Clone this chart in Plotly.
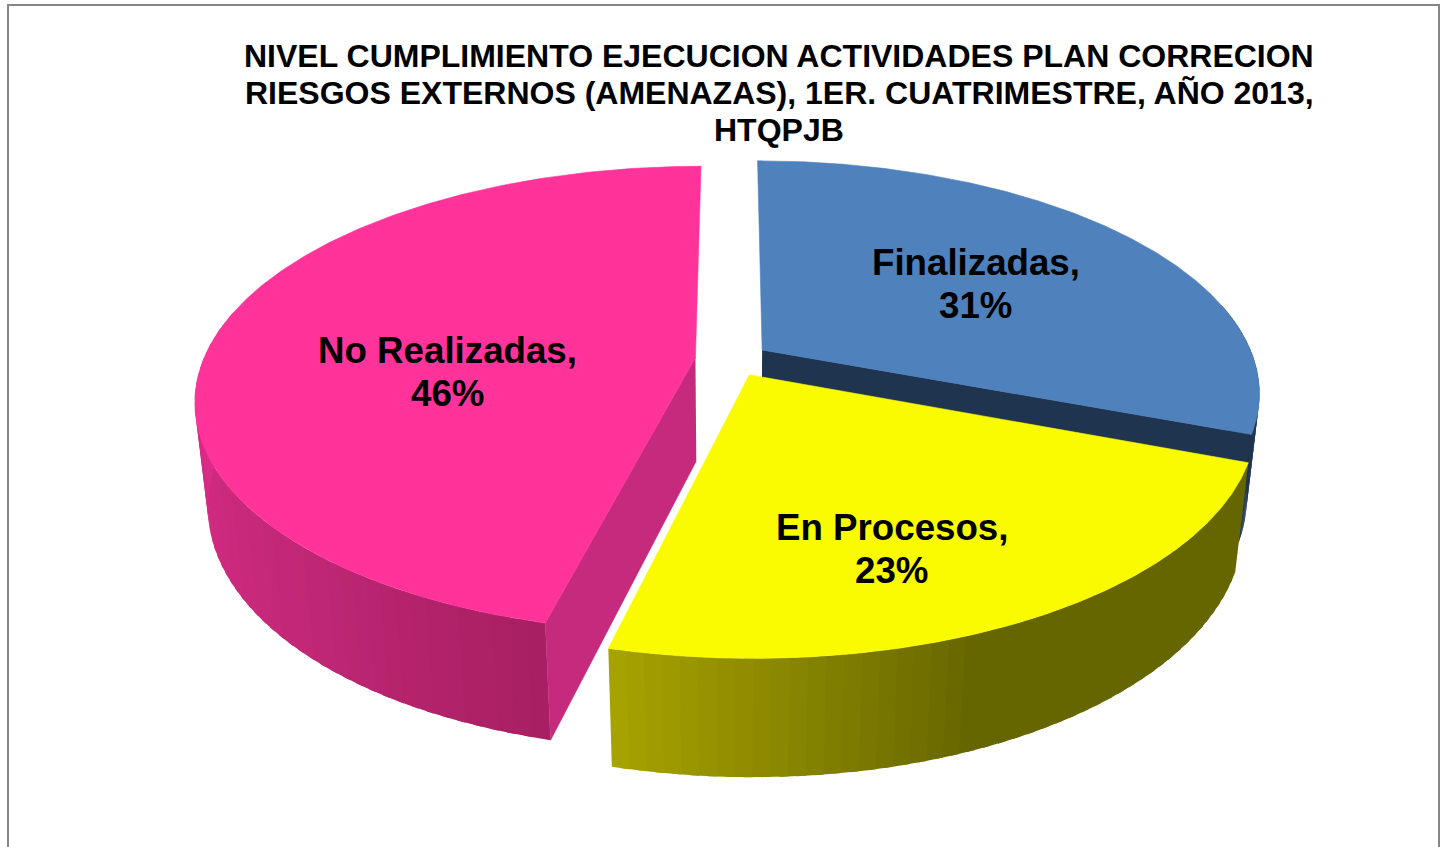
import math
import plotly.graph_objects as go

categories = ["Finalizadas", "En Procesos", "No Realizadas"]
shares = [30.8, 23.1, 46.2]
title_lines = [
    "NIVEL CUMPLIMIENTO EJECUCION ACTIVIDADES PLAN CORRECION",
    "RIESGOS EXTERNOS (AMENAZAS), 1ER. CUATRIMESTRE, AÑO 2013,",
    "HTQPJB",
]

top_colors = ["#4F81BD", "#FBFB00", "#FF3399"]
cut_colors = ["#1F344F", None, "#C62A7C"]
side_stops = [
    [(0.0, "#1F344F"), (1.0, "#1F344F")],
    [(0.0, "#666600"), (0.57, "#666600"), (1.0, "#A8A400")],
    [(0.0, "#A81F62"), (0.36, "#C22877"), (0.74, "#D62B84"), (1.0, "#DE2F8B")],
]

CX, CY = 732.0, 359.6
A, B, C = 492.0, 226.4, 106.0
K, M, EXPLODE = 0.18, 0.024, 0.075


def project(u, v, h):
    w = 1 + K * v + M * h
    return CX + A * u / w, CY + (-B * v + C * h) / w


def hex_mix(stops, t):
    for (t0, c0), (t1, c1) in zip(stops, stops[1:]):
        if t <= t1:
            f = (t - t0) / (t1 - t0) if t1 > t0 else 0
            rgb0 = [int(c0[i:i + 2], 16) for i in (1, 3, 5)]
            rgb1 = [int(c1[i:i + 2], 16) for i in (1, 3, 5)]
            r = [round(a + (b - a) * f) for a, b in zip(rgb0, rgb1)]
            return "rgb(%d,%d,%d)" % tuple(r)
    return stops[-1][1]


fig = go.Figure()


def poly(xs, ys, color, name, width=0.6):
    fig.add_trace(go.Scatter(
        x=xs, y=ys, mode="lines", fill="toself", fillcolor=color,
        line=dict(color=color, width=width), hoverinfo="skip",
        name=name, showlegend=False))


start = 0.0
slices = []
for name, share in zip(categories, shares):
    end = start + share / sum(shares) * 2 * math.pi
    slices.append((name, start, end))
    start = end


def draw_slice(i):
    name, a0, a1 = slices[i]
    mid = (a0 + a1) / 2
    ox, oy = EXPLODE * math.sin(mid), EXPLODE * math.cos(mid)
    pt = lambda a, h, r=1.0: project(ox + r * math.sin(a), oy + r * math.cos(a), h)
    n = 48
    # outer wall as overlapping gradient strips, only where it faces the viewer
    vis0, vis1 = max(a0, math.radians(78)), min(a1, math.radians(282))
    if vis1 > vis0:
        step = (vis1 - vis0) / n
        for j in range(n):
            s0 = vis0 + step * j
            s1 = min(vis1, s0 + step * 1.5)
            arc = [s0 + (s1 - s0) * q / 6 for q in range(7)]
            p = [pt(a, 0) for a in arc] + [pt(a, 1) for a in reversed(arc)]
            t = (j + 0.5) / n
            poly([q[0] for q in p], [q[1] for q in p], hex_mix(side_stops[i], t), name, width=0)
    # visible cut face
    if cut_colors[i]:
        edge = a0 if i == 2 else a1
        p = [pt(edge, 0, 0), pt(edge, 0), pt(edge, 1), pt(edge, 1, 0)]
        poly([q[0] for q in p], [q[1] for q in p], cut_colors[i], name)
    # top face
    steps = 240
    arc = [pt(a0 + (a1 - a0) * j / steps, 0) for j in range(steps + 1)]
    ctr = pt(0, 0, 0)
    xs = [ctr[0]] + [q[0] for q in arc] + [ctr[0]]
    ys = [ctr[1]] + [q[1] for q in arc] + [ctr[1]]
    poly(xs, ys, top_colors[i], name)


for i in (0, 2, 1):
    draw_slice(i)

annotations = []
for i, line in enumerate(title_lines):
    annotations.append(dict(
        x=779, y=56 + i * 37, xref="x", yref="y", text="<b>%s</b>" % line, showarrow=False,
        font=dict(family="Liberation Sans", size=32, color="#000000"),
        xanchor="center", yanchor="middle"))

label_pos = {"Finalizadas": (975.5, 284), "En Procesos": (891.5, 549), "No Realizadas": (447.5, 372)}
for name, share in zip(categories, shares):
    lx, ly = label_pos[name]
    for off, txt in ((-21.5, name + ","), (21.5, "%d%%" % round(share))):
        annotations.append(dict(
            x=lx, y=ly + off, xref="x", yref="y", text="<b>%s</b>" % txt, showarrow=False,
            font=dict(family="Liberation Sans", size=36.7, color="#000000"),
            xanchor="center", yanchor="middle"))

fig.update_layout(
    width=1446, height=847, margin=dict(l=0, r=0, t=0, b=0),
    paper_bgcolor="#FFFFFF", plot_bgcolor="#FFFFFF", showlegend=False,
    xaxis=dict(range=[0, 1446], visible=False, fixedrange=True),
    yaxis=dict(range=[847, 0], visible=False, fixedrange=True),
    annotations=annotations,
    shapes=[dict(type="rect", xref="x", yref="y", x0=8, y0=5, x1=1439, y1=900,
                 line=dict(color="#868686", width=2), fillcolor="rgba(0,0,0,0)", layer="below")],
)
fig.write_html("out.html", config={"displayModeBar": False},
               post_script="document.body.style.margin='0';document.body.style.overflow='hidden';")
